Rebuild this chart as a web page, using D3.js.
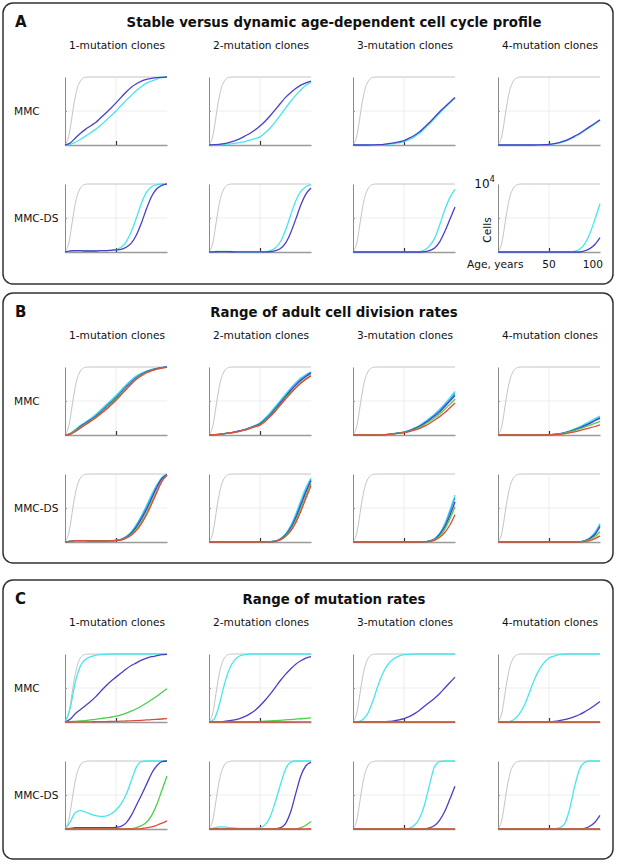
<!DOCTYPE html>
<html>
<head>
<meta charset="utf-8">
<script src="https://cdn.jsdelivr.net/npm/d3@7"></script>
<style>
  body { margin: 0; background: #fff; }
  text { font-family: "DejaVu Sans", sans-serif; fill: #111; }
</style>
</head>
<body>
<svg id="fig" width="617" height="864"></svg>
<script>
// ---- data: cells, in % of 10^4, sampled every 5 years of age ----
var ageGrid = [0,5,10,15,20,25,30,35,40,45,50,55,60,65,70,75,80,85,90,95,100];

// total cells (grey curve), same in every small plot
var grayAges  = [0,2,4,6,8,10,12,14,16,18,20,22,25,30,100];
var grayCells = [0,5,15,33,53,70,83,91,96,98.5,99.5,100,100,100,100];

var FLAT = [0,0,0,0,0,0,0,0,0,0,0,0,0,0,0,0,0,0,0,0,0];

var colTitles = ["1-mutation clones","2-mutation clones","3-mutation clones","4-mutation clones"];
var rowLabels = ["MMC","MMC-DS"];
var panelLetters = ["A","B","C"];
var panelTitles = [
  "Stable versus dynamic age-dependent cell cycle profile",
  "Range of adult cell division rates",
  "Range of mutation rates"
];
var ageTicks = [50,100];

// Panel A
var A_MMC_cyan = [
  [0,1,4,8,13,18,23,29,36,43,50,58,66,73,80,86,91,94,97,99,100],
  [0,0,0.5,1,1.5,2.5,3.5,5,7,9.5,12,18,25,34,44,54,64,73,81,88,92],
  [0,0,0,0,0,0,0.5,1,2,3,5,8,12,17,24,31,39,47,55,62,69],
  [0,0,0,0,0,0,0,0,0,0.3,0.8,1.5,3,5,8,12,16,21,26,31,36]
];
var A_MMC_blue = [
  [0,3,10,17,23,28,33,40,47,54,62,70,78,85,90,94,96.5,98,99,99.5,100],
  [0,0.5,1,2,4,6,9,13,17,22,28,35,43,52,61,70,77,83,88,91.5,94],
  [0,0,0,0,0.2,0.5,1,2,3,4.5,6.5,10,14,19,26,33,41,49,56,63,70],
  [0,0,0,0,0,0,0,0,0.2,0.5,1,2,3.5,6,9,13,17,22,27,32,37]
];
var A_DS_cyan = [
  [0,1,1.5,1.5,1.5,1.5,1.5,2,2,2.5,3.5,7,15,30,50,72,88,96,99,100,100],
  [0,0.5,1,1,0.8,0.5,0.3,0.2,0.2,0.2,0.3,0.5,2,6,15,32,54,75,89,96,99],
  [0,0,0,0,0,0,0,0,0,0,0,0,0,0.5,3,9,20,40,62,80,92],
  [0,0,0,0,0,0,0,0,0,0,0,0,0,0,0,1,4,12,27,48,71]
];
var A_DS_blue = [
  [0,1.5,2,2,1.5,1.5,1.5,2,2,2.5,3,4,7,13,25,43,64,82,93,98,100],
  [0,0.3,0.5,0.5,0.4,0.3,0.2,0.1,0.1,0.1,0.1,0.2,0.5,2,5,13,28,48,69,85,94],
  [0,0,0,0,0,0,0,0,0,0,0,0,0,0,0.5,2,6,15,30,48,66],
  [0,0,0,0,0,0,0,0,0,0,0,0,0,0,0,0,0,1.5,5,11,21]
];

// Panel B
var B_MMC_cyan = [
  [0,2,8,14,19,24,30,37,44,51,58,66,74,81,87,91,94,96.5,98,99,100],
  [0,0.5,1,2,3,4.5,6,8,11,14,18,25,33,42,51,60,69,77,84,89,93],
  [0,0,0,0,0,0,0.5,1,2,3,4.5,7,10,14,19,25,31,38,46,55,64],
  [0,0,0,0,0,0,0,0,0,0,0.3,1,2,3.5,6,9,12,16,20,24,28]
];
var B_MMC_sky = [
  [0,2,7,13,18,23,28,35,42,49,56,64,72,79,85,90,93.5,96,98,99,100],
  [0,0.5,1,2,3,4.5,6,8,10.5,13.5,17,23.5,31,40,49,58,67,75,82,87.5,92],
  [0,0,0,0,0,0,0.5,1,2,3,4.3,6.5,9.5,13,18,23.5,29.5,36,44,52,61],
  [0,0,0,0,0,0,0,0,0,0,0.3,0.9,1.8,3.2,5.5,8,11,14.5,18,22,26]
];
var B_MMC_blue = [
  [0,1.5,6,12,17,22,27,33,40,47,54,62,70,77,84,89,93,95.5,97.5,99,100],
  [0,0.5,1,2,3,4.5,6,8,10.5,13,16,22,29,38,47,56,65,73,80,86,91],
  [0,0,0,0,0,0,0.5,1,2,3,4,6,9,12.5,17,22,28,34,42,50,58],
  [0,0,0,0,0,0,0,0,0,0,0.3,0.9,1.7,3,5,7.5,10,13.5,17,21,24.5]
];
var B_MMC_green = [
  [0,1.5,6,11,16,21,26,32,39,46,53,61,69,76,83,88,92,95,97,98.5,99.5],
  [0,0.5,1,2,3,4,5.5,7.5,10,12.5,15,21,28,36,45,54,62,70,77,83,88],
  [0,0,0,0,0,0,0.5,1,1.8,2.8,3.8,5.5,8,11,15,20,25,31,38,45,53],
  [0,0,0,0,0,0,0,0,0,0,0.3,0.8,1.6,2.8,4.5,6.5,9,11.5,14.5,17,20]
];
var B_MMC_red = [
  [0,1,5,10,15,20,25,31,37,44,51,59,67,75,82,87,91.5,94.5,97,98.5,99.5],
  [0,0.5,1,2,3,4,5.5,7,9.5,12,14.5,20,27,35,44,53,61,69,76,82,87],
  [0,0,0,0,0,0,0.4,0.9,1.6,2.5,3.5,5,7,9.5,13,17,22,27,33,40,47],
  [0,0,0,0,0,0,0,0,0,0,0.2,0.5,1,1.8,3,4.5,6.5,8.5,10.5,12.5,15]
];
var B_DS_cyan = [
  [0,1,2,2,2,1.5,1.5,1.5,1.5,2,2.5,4,8,15,26,39,54,70,84,95,99],
  [0,0,0,0,0,0,0,0,0,0,0,0.2,0.5,1.5,5,12,24,41,61,80,94],
  [0,0,0,0,0,0,0,0,0,0,0,0,0,0,0.3,1.5,5,13,27,47,69],
  [0,0,0,0,0,0,0,0,0,0,0,0,0,0,0,0,0.3,2,6,14,27]
];
var B_DS_sky = [
  [0,1,2,2,2,1.5,1.5,1.5,1.5,2,2.4,3.8,7.5,14,24,37,51,67,82,94,99],
  [0,0,0,0,0,0,0,0,0,0,0,0.2,0.5,1.4,4.5,11,22,38,57,76,92],
  [0,0,0,0,0,0,0,0,0,0,0,0,0,0,0.3,1.4,4.5,12,25,44,65],
  [0,0,0,0,0,0,0,0,0,0,0,0,0,0,0,0,0.3,1.8,5.5,12.5,25]
];
var B_DS_blue = [
  [0,1,2,2,2,1.5,1.5,1.5,1.5,2,2.3,3.5,7,13,22,34,48,64,80,93,99],
  [0,0,0,0,0,0,0,0,0,0,0,0.2,0.4,1.3,4,10,20,35,54,73,90],
  [0,0,0,0,0,0,0,0,0,0,0,0,0,0,0.3,1.3,4,11,22,39,59],
  [0,0,0,0,0,0,0,0,0,0,0,0,0,0,0,0,0.2,1.5,5,11,22.5]
];
var B_DS_green = [
  [0,1,2,2,2,1.5,1.5,1.5,1.5,1.8,2.2,3,6,11,19,30,43,59,75,90,98],
  [0,0,0,0,0,0,0,0,0,0,0,0.1,0.4,1.2,3.5,9,18,31,49,68,86],
  [0,0,0,0,0,0,0,0,0,0,0,0,0,0,0.2,1,3.5,9,19,34,52],
  [0,0,0,0,0,0,0,0,0,0,0,0,0,0,0,0,0.2,1.2,3.5,8,15]
];
var B_DS_red = [
  [0,1,2,2,2,1.5,1.5,1.5,1.5,1.8,2,2.8,5.5,10,17,27,40,56,73,89,98],
  [0,0,0,0,0,0,0,0,0,0,0,0.1,0.3,1,3,8,16,28,45,64,83],
  [0,0,0,0,0,0,0,0,0,0,0,0,0,0,0.2,0.8,2.5,7,14,25,40],
  [0,0,0,0,0,0,0,0,0,0,0,0,0,0,0,0,0.1,0.7,2,5,9]
];

// Panel C
var C_MMC_cyan = [
  [0,20,58,82,92,96,98,99,99.5,100,100,100,100,100,100,100,100,100,100,100,100],
  [0,4,25,55,78,91,97,99,100,100,100,100,100,100,100,100,100,100,100,100,100],
  [0,0.5,4,14,33,56,74,86,93,97,99,99.5,100,100,100,100,100,100,100,100,100],
  [0,0,0.5,3,10,22,40,60,76,87,94,97,99,100,100,100,100,100,100,100,100]
];
var C_MMC_blue = [
  [0,4,12,18,24,30,37,45,53,60,66,72,78,83,87,91,94,96,97.5,99,99.5],
  [0,0.2,0.5,1,2,3,5,8,12,17,24,32,41,51,61,70,78,85,90,94,96],
  [0,0,0,0,0,0,0.3,0.8,1.5,3,5,8,12,17,23,29,35,42,50,58,66],
  [0,0,0,0,0,0,0,0,0,0.2,0.5,1,2,3.5,5.5,8,11,15,19.5,24.5,30]
];
var C_MMC_green = [
  [0,0.5,1,1.5,2,3,4,5,6,7,8.5,10.5,13,16,19.5,23.5,28,33,38,43.5,49],
  [0,0,0,0,0,0,0,0.2,0.3,0.5,0.8,1.1,1.5,2,2.5,3,3.6,4.2,4.8,5.4,6],
  [0,0,0,0,0,0,0,0,0,0,0,0,0,0,0,0,0,0.1,0.1,0.2,0.3],
  FLAT
];
var C_MMC_red = [
  [0,0,0.1,0.1,0.2,0.3,0.4,0.5,0.6,0.8,1,1.2,1.5,1.8,2.1,2.5,3,3.4,3.9,4.4,5],
  [0,0,0,0,0,0,0,0,0,0,0,0,0,0,0,0,0,0,0.1,0.2,0.3],
  FLAT,
  FLAT
];
var C_DS_cyan = [
  [0,10,24,27,25,22,19.5,18.5,19,22,28,37,51,71,91,99,100,100,100,100,100],
  [0,1.5,3,3,2,1.5,1,0.8,0.8,1,2,6,18,40,65,88,98,100,100,100,100],
  [0,0,0,0,0,0,0,0,0,0,0,1,5,15,35,65,92,99,100,100,100],
  [0,0,0,0,0,0,0,0,0,0,0,0.2,1.5,7,28,62,88,98,100,100,100]
];
var C_DS_blue = [
  [0,1,2,2,2,2,2,2,2,2,2.5,4,9,20,35,50,66,82,93,99,100],
  [0,0.3,0.5,0.5,0.4,0.3,0.2,0.2,0.2,0.2,0.2,0.2,0.3,0.5,2,8,25,52,78,93,98],
  [0,0,0,0,0,0,0,0,0,0,0,0,0,0,0.3,1.5,5,13,26,44,63],
  [0,0,0,0,0,0,0,0,0,0,0,0,0,0,0,0,0.2,1,4,10,20]
];
var C_DS_green = [
  [0,0,0,0,0,0,0,0,0,0,0,0,0.2,0.5,2,5,10,20,36,57,78],
  [0,0,0,0,0,0,0,0,0,0,0,0,0,0,0,0,0,0.3,2,5.5,11],
  FLAT,
  FLAT
];
var C_DS_red = [
  [0,0,0,0,0,0,0,0,0,0,0,0,0,0,0.2,0.7,1.5,3,5.5,8.5,12],
  [0,0,0,0,0,0,0,0,0,0,0,0,0,0,0,0,0,0,0,0.2,0.5],
  FLAT,
  FLAT
];

// ---- drawing ----
var CYAN = "#48e6ec", SKY = "#3a9ef0", BLUE = "#4a3fc6", GREEN = "#48d048", RED = "#e04a3c", GRAY = "#c4c4c4";

var panels = [
  { top: 3, bottom: 284, series: [
      { color: CYAN, rows: [A_MMC_cyan, A_DS_cyan] },
      { color: BLUE, rows: [A_MMC_blue, A_DS_blue] } ] },
  { top: 293, bottom: 563, series: [
      { color: CYAN,  rows: [B_MMC_cyan, B_DS_cyan] },
      { color: SKY,   rows: [B_MMC_sky, B_DS_sky] },
      { color: BLUE,  rows: [B_MMC_blue, B_DS_blue] },
      { color: GREEN, rows: [B_MMC_green, B_DS_green] },
      { color: RED,   rows: [B_MMC_red, B_DS_red] } ] },
  { top: 580, bottom: 859, series: [
      { color: CYAN,  rows: [C_MMC_cyan, C_DS_cyan] },
      { color: BLUE,  rows: [C_MMC_blue, C_DS_blue] },
      { color: GREEN, rows: [C_MMC_green, C_DS_green] },
      { color: RED,   rows: [C_MMC_red, C_DS_red] } ] }
];

var colX = [65, 209, 353, 498];
var W = 102, H = 68;

var svg = d3.select("#fig");

var x = d3.scaleLinear().domain([0, 100]).range([0, W]);
var y = d3.scaleLinear().domain([0, 100]).range([H, 0]);

var line = d3.line()
    .x(function(d, i){ return x(ageGrid[i]); })
    .y(function(d){ return y(d); })
    .curve(d3.curveMonotoneX);
var grayLine = d3.line()
    .x(function(d, i){ return x(grayAges[i]); })
    .y(function(d){ return y(d); })
    .curve(d3.curveMonotoneX);

function smallPlot(g, series, r, c) {
    // grid
    g.append("line").attr("x1", x(50)).attr("x2", x(50)).attr("y1", 0).attr("y2", H)
        .attr("stroke", "#e8e8e8").attr("stroke-width", 0.8);
    g.append("line").attr("x1", 0).attr("x2", W).attr("y1", y(50)).attr("y2", y(50))
        .attr("stroke", "#e8e8e8").attr("stroke-width", 0.8);

    var xa = g.append("g").attr("transform", "translate(0," + H + ")")
        .call(d3.axisBottom(x).tickValues([50]).tickSizeInner(-4).tickSizeOuter(0).tickFormat(""));
    xa.select(".domain").attr("stroke", "#9a9a9a").attr("stroke-width", 1.6);
    xa.selectAll(".tick line").attr("stroke", "#333").attr("stroke-width", 1.2);

    var ya = g.append("g")
        .call(d3.axisLeft(y).tickValues([50]).tickSizeInner(-2).tickSizeOuter(0).tickFormat(""));
    ya.select(".domain").attr("stroke", "#8a8a8a").attr("stroke-width", 1);
    ya.selectAll(".tick line").attr("stroke", "#999");

    g.append("path").attr("d", grayLine(grayCells))
        .attr("fill", "none").attr("stroke", GRAY).attr("stroke-width", 1);

    series.forEach(function(s){
        g.append("path").attr("d", line(s.rows[r][c]))
            .attr("fill", "none").attr("stroke", s.color).attr("stroke-width", 1.3);
    });
}

panels.forEach(function(p, pi){
    svg.append("rect").attr("x", 3).attr("y", p.top)
        .attr("width", 610).attr("height", p.bottom - p.top)
        .attr("rx", 10).attr("ry", 10)
        .attr("fill", "none").attr("stroke", "#333").attr("stroke-width", 1.5);

    svg.append("text").attr("x", 15).attr("y", p.top + 19).attr("dy", "0.35em")
        .style("font-size", "15px").style("font-weight", "bold")
        .text(panelLetters[pi]);
    svg.append("text").attr("x", 334).attr("y", p.top + 19).attr("dy", "0.35em")
        .attr("text-anchor", "middle")
        .style("font-size", "13.3px").style("font-weight", "bold")
        .text(panelTitles[pi]);

    colTitles.forEach(function(t, c){
        svg.append("text").attr("x", colX[c] + W / 2 + 1).attr("y", p.top + 42.5).attr("dy", "0.35em")
            .attr("text-anchor", "middle").style("font-size", "10.6px").text(t);
    });

    [0, 1].forEach(function(r){
        var top = p.top + 74 + r * 107;
        svg.append("text").attr("x", 14).attr("y", top + H / 2).attr("dy", "0.35em")
            .style("font-size", "10.6px").text(rowLabels[r]);
        colX.forEach(function(cx, c){
            var g = svg.append("g").attr("transform", "translate(" + cx + "," + top + ")");
            smallPlot(g, p.series, r, c);
            if (pi === 0 && r === 1 && c === 3) {
                var t = g.append("text").attr("x", -3).attr("y", 4).attr("text-anchor", "end")
                    .style("font-size", "12px");
                t.append("tspan").text("10");
                t.append("tspan").attr("dy", -6).style("font-size", "8.5px").text("4");
                g.append("text").attr("transform", "translate(-11," + (H / 2 + 12) + ") rotate(-90)")
                    .attr("text-anchor", "middle").attr("dy", "0.35em")
                    .style("font-size", "10.6px").text("Cells");
                g.append("text").attr("x", x(25)).attr("y", H + 12).attr("dy", "0.35em")
                    .attr("text-anchor", "end").style("font-size", "10.6px").text("Age, years");
                ageTicks.forEach(function(v){
                    g.append("text").attr("x", v === 100 ? x(v) + 3 : x(v)).attr("y", H + 12).attr("dy", "0.35em")
                        .attr("text-anchor", v === 100 ? "end" : "middle")
                        .style("font-size", "10.6px").text(v);
                });
            }
        });
    });
});
</script>
</body>
</html>
